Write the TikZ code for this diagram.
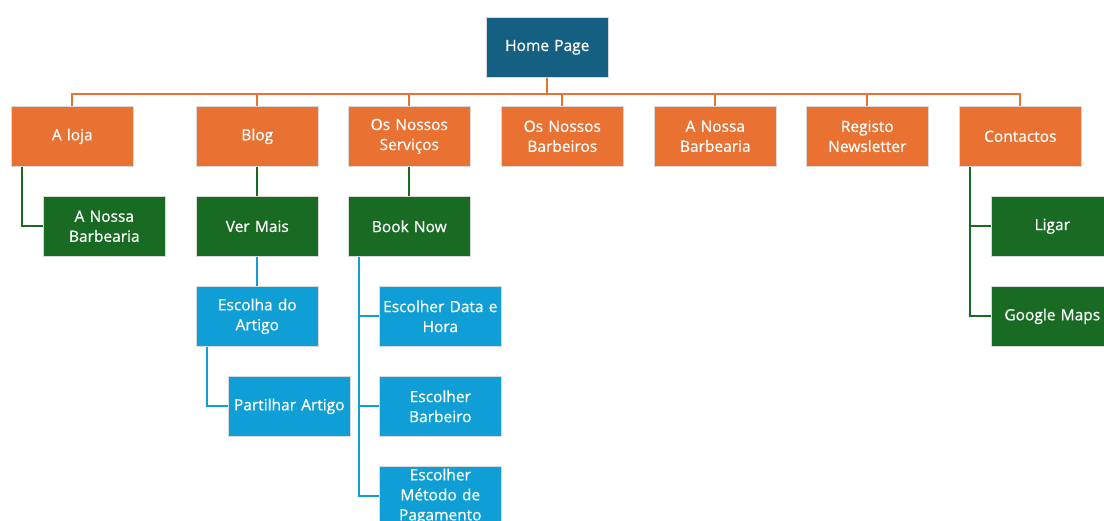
\documentclass[tikz,border=0pt]{standalone}
\usepackage{fontspec}
\setmainfont{Open Sans}[FakeBold=0.6]
\definecolor{cHome}{HTML}{156082}
\definecolor{cOr}{HTML}{E97132}
\definecolor{cGr}{HTML}{196B24}
\definecolor{cBl}{HTML}{0F9ED5}
\begin{document}
\begin{tikzpicture}[x=1pt,y=-1pt,
  box/.style={draw=white!85!black,line width=0.6pt,minimum width=122pt,minimum height=60pt,inner sep=1pt,
    text=white,align=center,font=\fontsize{15.5}{20}\selectfont\addfontfeatures{FakeBold=0.6},anchor=north west,text width=120pt},
  home/.style={box,fill=cHome},
  orb/.style={box,fill=cOr},
  grb/.style={box,fill=cGr},
  blb/.style={box,fill=cBl},
  lor/.style={draw=cOr,line width=2pt},
  lgr/.style={draw=cGr,line width=2pt},
  lbl/.style={draw=cBl,line width=2pt}]
\useasboundingbox (0,0) rectangle (1104,520);
\begin{scope}
\clip (0,0) rectangle (1104,520);
\node[home] (home) at (486,17) {Home Page};
\node[orb] (loja) at (11,106) {A loja};
\node[orb] (blog) at (196,106) {Blog};
\node[orb] (serv) at (348,106) {Os Nossos\\Serviços};
\node[orb] (barb) at (501,106) {Os Nossos\\Barbeiros};
\node[orb] (nbar) at (654,106) {A Nossa\\Barbearia};
\node[orb] (news) at (806,106) {Registo\\Newsletter};
\node[orb] (cont) at (959,106) {Contactos};
\node[grb] (anb) at (43,196) {A Nossa\\Barbearia};
\node[grb] (ver) at (196,196) {Ver Mais};
\node[grb] (book) at (348,196) {Book Now};
\node[grb] (lig) at (991,196) {Ligar};
\node[grb] (gm) at (991,286) {Google Maps};
\node[blb] (esc) at (196,286) {Escolha do\\Artigo};
\node[blb] (par) at (228,376) {Partilhar Artigo};
\node[blb] (dat) at (379,286) {Escolher Data e\\Hora};
\node[blb] (ebb) at (379,376) {Escolher\\Barbeiro};
\node[blb] (pag) at (379,466) {Escolher\\Método de\\Pagamento};
\foreach \c in {loja,blog,serv,barb,nbar,news,cont}
  \draw[lor] (home.south) -- ++(0,16) -| (\c.north);
\draw[lgr] ([xshift=11pt]loja.south west) |- (anb.west);
\draw[lgr] (blog.south) -- (ver.north);
\draw[lgr] (serv.south) -- (book.north);
\draw[lgr] ([xshift=11pt]cont.south west) |- (lig.west);
\draw[lgr] ([xshift=11pt]cont.south west) |- (gm.west);
\draw[lbl] (ver.south) -- (esc.north);
\draw[lbl] ([xshift=11pt]esc.south west) |- (par.west);
\draw[lbl] ([xshift=11pt]book.south west) |- (dat.west);
\draw[lbl] ([xshift=11pt]book.south west) |- (ebb.west);
\draw[lbl] ([xshift=11pt]book.south west) |- (pag.west);
\end{scope}
\end{tikzpicture}
\end{document}
